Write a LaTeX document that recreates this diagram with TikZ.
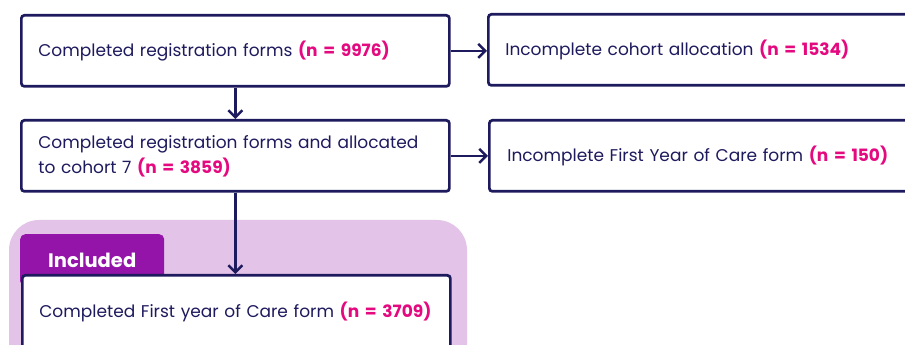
\documentclass[tikz,border=0pt]{standalone}
\usepackage{fontspec}
\setmainfont{Poppins}
\usetikzlibrary{positioning, arrows.meta}
\definecolor{navy}{HTML}{1E1A5E}
\definecolor{pinkn}{HTML}{E5097F}
\definecolor{tabpurple}{HTML}{9413A8}
\definecolor{panel}{HTML}{E3C4E8}
\newcommand{\ncount}[1]{{\color{pinkn}\bfseries(n = #1)}}

\begin{document}
\begin{tikzpicture}[x=1pt, y=1pt, font=\fontsize{17}{25}\selectfont,
  box/.style={draw=navy, line width=2.7pt, rounded corners=3pt, fill=white, text=navy,
    align=left, anchor=north west, inner xsep=17pt, inner ysep=0pt, text width=394pt, minimum height=71pt},
  >={Straight Barb[length=7pt, width=14pt]}]
\clip (0,0) rectangle (905,345);
% included panel and tab
\fill[panel, rounded corners=30pt] (9,-40) rectangle (467,125);
\node[fill=tabpurple, rounded corners=5pt, anchor=north west, minimum width=144pt, minimum height=52pt, text=white, font=\fontsize{19.5}{22}\selectfont\bfseries] (inc) at (20,111) {Included};
% boxes
\node[box] (regf) at (20,331) {Completed registration forms \ncount{9976}};
\node[box] (cohort) at (20,226) {Completed registration forms and allocated\\to cohort 7 \ncount{3859}};
\node[box, text width=406pt, inner xsep=17pt] (alloc) at (487,332) {Incomplete cohort allocation \ncount{1534}};
\node[box, text width=406pt, inner xsep=18pt] (fyoc) at (488,226) {Incomplete First Year of Care form \ncount{150}};
\node[box, minimum height=74pt] (care) at (21,71) {Completed First year of Care form \ncount{3709}};
% arrows
\draw[->, navy, line width=2.5pt] (regf.south) -- (cohort.north);
\draw[->, navy, line width=2.5pt] (cohort.south) -- (cohort.south |- care.north);
\draw[->, navy, line width=2.5pt] (regf.east) -- (regf.east -| alloc.west);
\draw[->, navy, line width=2.5pt] (cohort.east) -- (cohort.east -| fyoc.west);
\end{tikzpicture}
\end{document}
